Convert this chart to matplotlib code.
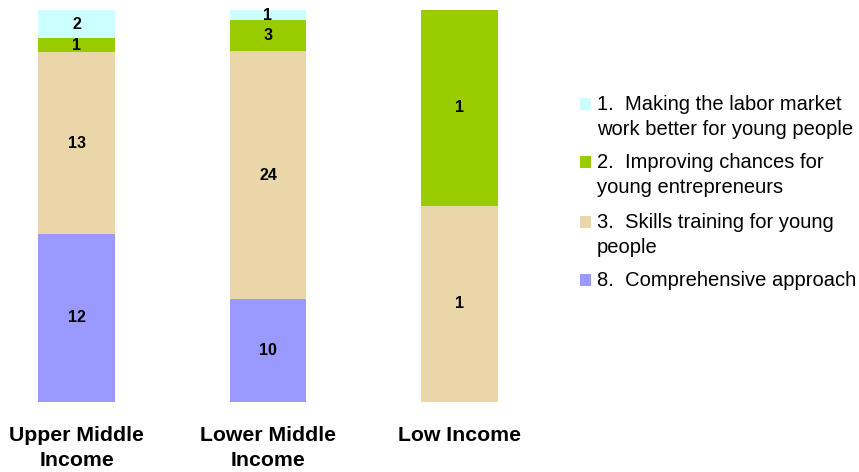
import matplotlib
matplotlib.use("Agg")
import matplotlib.pyplot as plt
import numpy as np
from matplotlib.patches import Rectangle

plt.rcParams["font.family"] = ["Liberation Sans", "DejaVu Sans"]

categories = ["Upper Middle\nIncome", "Lower Middle\nIncome", "Low Income"]
series_names = [
    "8.  Comprehensive approach",
    "3.  Skills training for young\npeople",
    "2.  Improving chances for\nyoung entrepreneurs",
    "1.  Making the labor market\nwork better for young people",
]
# counts per category, bottom to top
comprehensive = [12, 10, 0]
skills = [13, 24, 1]
entrepreneurs = [1, 3, 1]
labor_market = [2, 1, 0]

colors = ["#9999ff", "#e9d6a9", "#99cc00", "#ccffff"]

fig = plt.figure(figsize=(8.59, 4.72), dpi=100)
ax = fig.add_axes([0.0, 70 / 472, 536 / 859, 392 / 472])

series = [comprehensive, skills, entrepreneurs, labor_market]
totals = np.sum(series, axis=0)
x = np.arange(len(categories))
bottom = np.zeros(len(categories))
for vals, col in zip(series, colors):
    share = np.array(vals) / totals
    bars = ax.bar(x, share, width=0.4, bottom=bottom, color=col, linewidth=0)
    for xi, v, b, s in zip(x, vals, bottom, share):
        if v > 0:
            ax.text(xi, b + s / 2, str(v), ha="center", va="center",
                    fontsize=11.5, fontweight="bold", color="black")
    bottom += share

ax.set_xlim(-0.4, 2.4)
ax.set_ylim(0, 1)
ax.set_xticks(x)
ax.set_xticklabels(categories, fontsize=15.3, fontweight="bold", linespacing=1.4)
ax.tick_params(axis="x", length=0, pad=17)
ax.set_yticks([])
for sp in ax.spines.values():
    sp.set_visible(False)

# legend, drawn by hand so each swatch sits on the first text line
leg_y = [104, 162, 222, 280]
for name, col, yy in zip(series_names[::-1], colors[::-1], leg_y):
    fy = 1 - yy / 472
    fig.patches.append(Rectangle((580 / 859, fy - 6 / 472), 11 / 859, 12 / 472,
                                 transform=fig.transFigure, color=col, lw=0))
    fig.text(597 / 859, fy + 9 / 472, name, ha="left", va="top",
             fontsize=14.5, linespacing=1.4)

fig.savefig("out.png", dpi=100)
